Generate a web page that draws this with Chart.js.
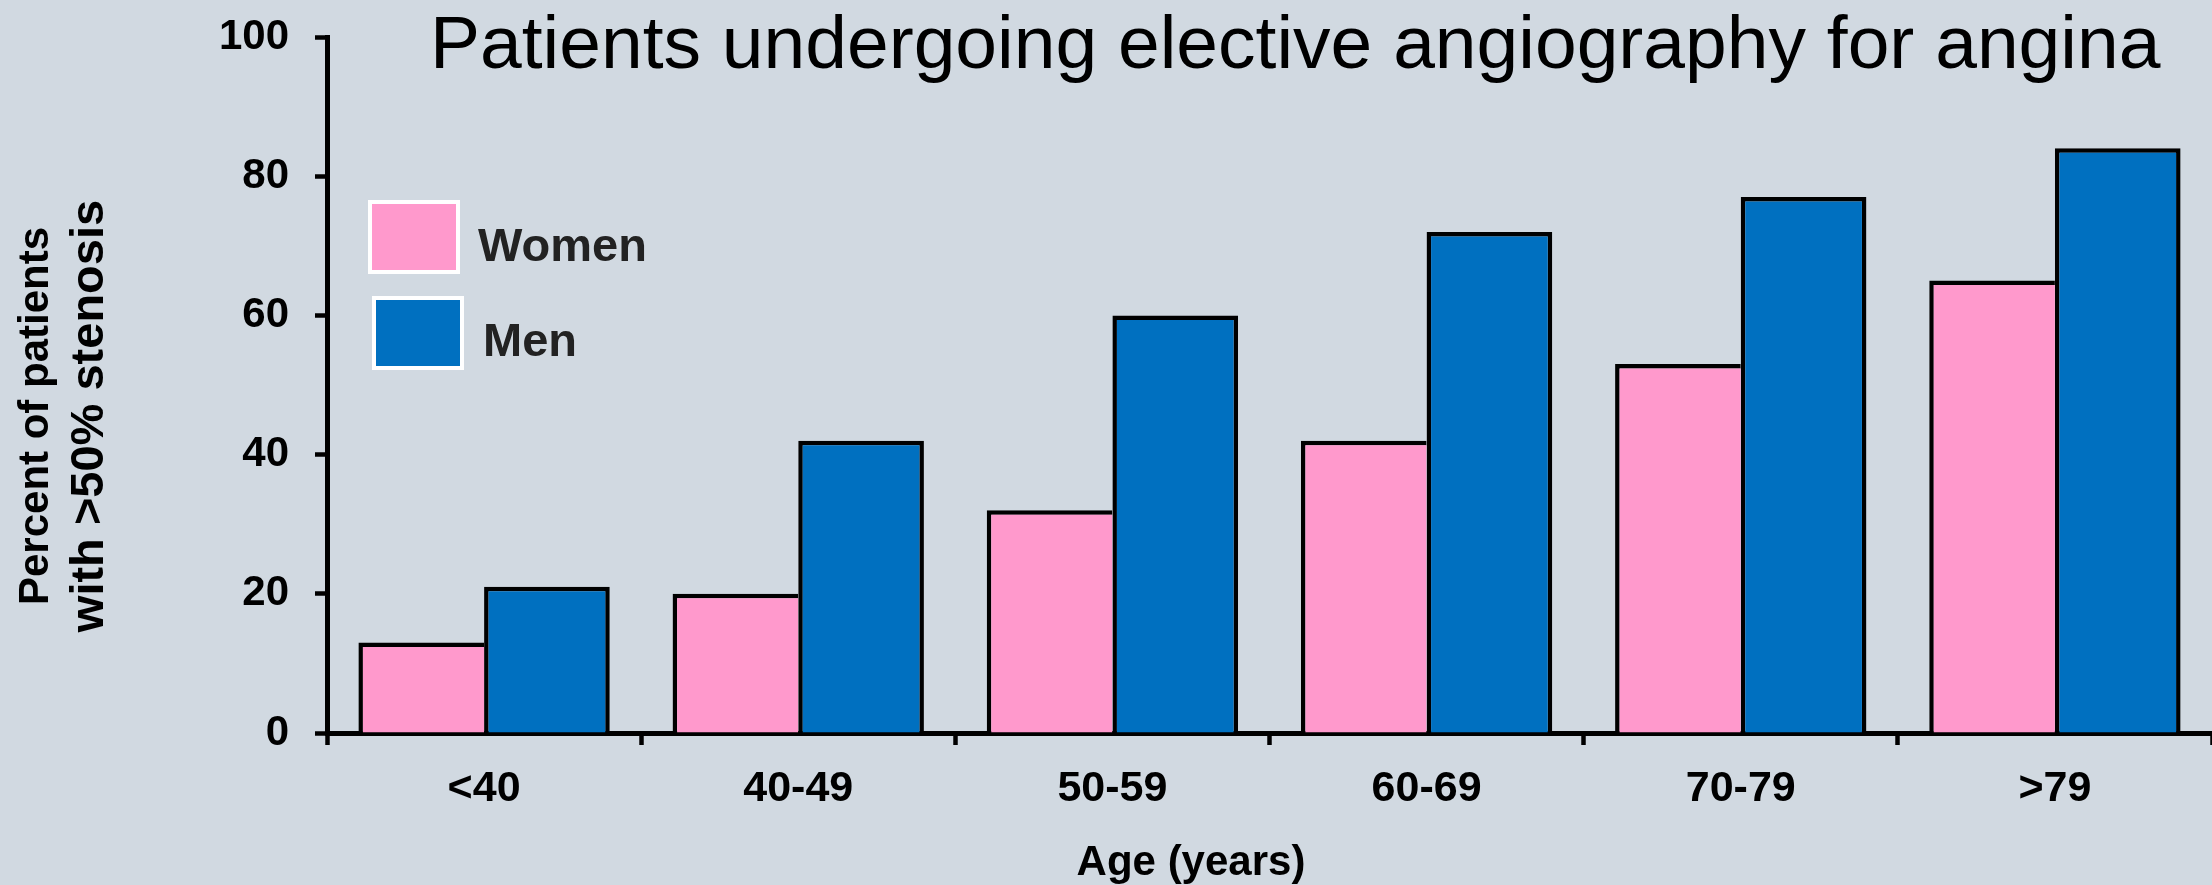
<!DOCTYPE html>
<html>
<head>
<meta charset="utf-8">
<title>Patients undergoing elective angiography for angina</title>
<script src="https://cdn.jsdelivr.net/npm/chart.js@4.4.0/dist/chart.umd.min.js"></script>
<style>
  html, body { margin: 0; padding: 0; background: #d1d9e1; }
  #wrap { width: 2212px; height: 885px; position: relative; }
</style>
</head>
<body>
<div id="wrap"><canvas id="stenosisChart"></canvas></div>
<script>
// Chart data
const ageGroups = ['<40', '40-49', '50-59', '60-69', '70-79', '>79'];
const womenValues = [13, 20, 32, 42, 53, 65];
const menValues = [21, 42, 60, 72, 77, 84];
const yTicks = [0, 20, 40, 60, 80, 100];

const chartTitle = 'Patients undergoing elective angiography for angina';
const yTitleLines = ['Percent of patients', 'with >50% stenosis'];
const xTitle = 'Age (years)';

const FONT = '"Liberation Sans", Arial, Helvetica, sans-serif';

// Draws the big title, the axis titles and the boxed legend inside the plot
const annotationsPlugin = {
  id: 'annotations',
  afterDraw(chart) {
    const ctx = chart.ctx;
    ctx.save();

    // main title (sits over the top of the plot area)
    ctx.fillStyle = '#000';
    ctx.font = '75px ' + FONT;
    ctx.textAlign = 'left';
    ctx.textBaseline = 'alphabetic';
    ctx.fillText(chartTitle, 430, 68);

    // x axis title
    ctx.font = 'bold 42px ' + FONT;
    ctx.textAlign = 'center';
    ctx.fillText(xTitle, 1191, 875);

    // y axis title, two rotated lines (second line is a bit larger)
    ctx.save();
    ctx.translate(0, 416);
    ctx.rotate(-Math.PI / 2);
    ctx.fillText(yTitleLines[0], 0, 48);
    ctx.font = 'bold 47px ' + FONT;
    ctx.fillText(yTitleLines[1], 0, 103);
    ctx.restore();

    // legend boxes with white outline
    const boxes = [
      { x: 370, y: 202, tx: 478, ty: 261 },
      { x: 374, y: 298, tx: 483, ty: 356 }
    ];
    chart.data.datasets.forEach((ds, i) => {
      const b = boxes[i];
      ctx.fillStyle = ds.backgroundColor;
      ctx.fillRect(b.x, b.y, 88, 70);
      ctx.strokeStyle = '#fff';
      ctx.lineWidth = 4;
      ctx.strokeRect(b.x, b.y, 88, 70);
      ctx.fillStyle = '#222';
      ctx.font = 'bold 47px ' + FONT;
      ctx.textAlign = 'left';
      ctx.fillText(ds.label, b.tx, b.ty);
    });

    ctx.restore();
  }
};

const ctx = document.getElementById('stenosisChart').getContext('2d');

new Chart(ctx, {
  type: 'bar',
  data: {
    labels: ageGroups,
    datasets: [
      {
        label: 'Women',
        data: womenValues,
        backgroundColor: '#ff99cc',
        borderColor: '#000',
        borderWidth: { top: 4.5, left: 4.5, right: 0, bottom: 0 }
      },
      {
        label: 'Men',
        data: menValues,
        backgroundColor: '#0070c0',
        borderColor: '#000',
        borderWidth: { top: 4.5, left: 4.5, right: 4.5, bottom: 0 }
      }
    ]
  },
  options: {
    responsive: true,
    maintainAspectRatio: false,
    animation: false,
    layout: { padding: { top: 37, right: 0, left: 0, bottom: 0 } },
    datasets: {
      bar: { categoryPercentage: 0.8, barPercentage: 1.0 }
    },
    scales: {
      x: {
        offset: true,
        grid: {
          offset: true,
          drawOnChartArea: false,
          drawTicks: true,
          tickLength: 12,
          tickWidth: 4.5,
          tickColor: '#000'
        },
        border: { display: true, color: '#000', width: 5 },
        ticks: {
          color: '#000',
          padding: 18,
          font: { family: FONT, size: 43, weight: 'bold' }
        },
        afterFit(scale) { scale.height = 152; }
      },
      y: {
        min: yTicks[0],
        max: yTicks[yTicks.length - 1],
        afterBuildTicks(scale) {
          scale.ticks = yTicks.map(v => ({ value: v }));
        },
        grid: {
          drawOnChartArea: false,
          drawTicks: true,
          tickLength: 12,
          tickWidth: 4.5,
          tickColor: '#000'
        },
        border: { display: true, color: '#000', width: 5 },
        ticks: {
          color: '#000',
          padding: 26,
          font: { family: FONT, size: 42, weight: 'bold' }
        },
        afterFit(scale) {
          scale.width = 327;
          // keep the top label overflow from pushing the plot down
          scale.paddingTop = 24;
          scale.paddingBottom = 24;
        }
      }
    },
    plugins: {
      legend: { display: false },
      tooltip: { enabled: false }
    }
  },
  plugins: [annotationsPlugin]
});
</script>
</body>
</html>
